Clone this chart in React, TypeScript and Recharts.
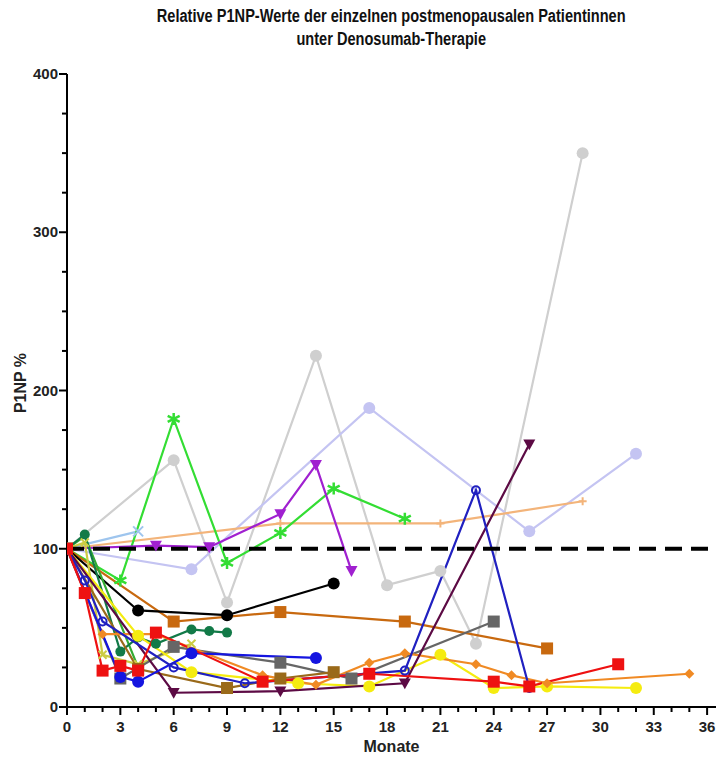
import { LineChart, Line, XAxis, YAxis, ReferenceLine } from 'recharts';

// each series: [month, P1NP % of baseline]
const lightGray = [[0, 100], [6, 156], [9, 66], [14, 222], [18, 77], [21, 86], [23, 40], [29, 350]];
const lavender = [[0, 100], [7, 87], [17, 189], [26, 111], [32, 160]];
const brightGreen = [[0, 100], [3, 80], [6, 182], [9, 91], [12, 110], [15, 138], [19, 119]];
const purple = [[0, 100], [5, 102], [8, 101], [12, 122], [14, 153], [16, 86]];
const peach = [[0, 100], [12, 116], [21, 116], [29, 130]];
const lightBlue = [[0, 100], [4, 111]];
const black = [[0, 100], [4, 61], [9, 58], [15, 78]];
const rust = [[0, 100], [6, 54], [12, 60], [19, 54], [27, 37]];
const darkGreen = [[0, 100], [1, 109], [3, 35], [4, 44], [5, 40], [7, 49], [8, 48], [9, 47]];
const red = [[0, 100], [1, 72], [2, 23], [3, 26], [4, 23], [5, 47], [11, 16], [17, 21], [24, 16], [26, 13], [31, 27]];
const orange = [[0, 100], [2, 46], [5, 46], [11, 20], [14, 14], [17, 28], [19, 34], [23, 27], [25, 20], [27, 15], [35, 21]];
const yellow = [[0, 100], [4, 45], [7, 22], [13, 15], [17, 13], [21, 33], [24, 12], [27, 13], [32, 12]];
const olive = [[0, 100], [1, 104], [2, 33], [4, 27], [7, 40]];
const blue = [[0, 100], [3, 19], [4, 16], [7, 34], [14, 31]];
const blueOpen = [[0, 100], [1, 80], [2, 54], [6, 25], [10, 15], [19, 23], [23, 137], [26, 12]];
const maroon = [[0, 100], [6, 9], [12, 10], [19, 15], [26, 166]];
const brown = [[0, 100], [4, 24], [9, 12], [12, 18], [15, 22]];
const darkGray = [[0, 100], [3, 18], [6, 38], [12, 28], [16, 18], [24, 54]];
const midGreen = [[0, 100], [1, 108], [4, 25]];

const xTicks = Array.from({ length: 37 }, (_, i) => i);
const yTicks = [0, 25, 50, 75, 100, 125, 150, 175, 200, 225, 250, 275, 300, 325, 350, 375, 400];

const FONT = '"Liberation Sans", Arial, sans-serif';

const series = [
  { name: 'lightGray', pts: lightGray, color: '#cfcfcf', shape: 'circle', size: 6 },
  { name: 'lavender', pts: lavender, color: '#c4c4f2', shape: 'circle', size: 6 },
  { name: 'peach', pts: peach, color: '#f3b47a', shape: 'plus', size: 4 },
  { name: 'lightBlue', pts: lightBlue, color: '#9ec5ee', shape: 'cross', size: 5 },
  { name: 'brightGreen', pts: brightGreen, color: '#33dd33', shape: 'star', size: 6 },
  { name: 'purple', pts: purple, color: '#a020d0', shape: 'triangle', size: 6 },
  { name: 'rust', pts: rust, color: '#c8690f', shape: 'square', size: 6 },
  { name: 'black', pts: black, color: '#000000', shape: 'circle', size: 6 },
  { name: 'midGreen', pts: midGreen, color: '#33aa33', shape: 'circle', size: 3 },
  { name: 'darkGreen', pts: darkGreen, color: '#127a48', shape: 'circle', size: 5 },
  { name: 'olive', pts: olive, color: '#cccc44', shape: 'cross', size: 4 },
  { name: 'darkGray', pts: darkGray, color: '#666666', shape: 'square', size: 6 },
  { name: 'brown', pts: brown, color: '#9a6a1a', shape: 'square', size: 6 },
  { name: 'yellow', pts: yellow, color: '#f5ec10', shape: 'circle', size: 6 },
  { name: 'orange', pts: orange, color: '#f08a24', shape: 'diamond', size: 5 },
  { name: 'maroon', pts: maroon, color: '#5c0a44', shape: 'triangle', size: 6 },
  { name: 'blue', pts: blue, color: '#1515e0', shape: 'circle', size: 6 },
  { name: 'blueOpen', pts: blueOpen, color: '#2020c0', shape: 'open', size: 4 },
  { name: 'red', pts: red, color: '#ee1111', shape: 'square', size: 6 },
];

const makeDot = (shape: string, color: string, s: number) => (props: any) => {
  const { cx, cy, index } = props;
  if (cx == null || cy == null) return null;
  const k = `d-${index}`;
  switch (shape) {
    case 'square':
      return <rect key={k} x={cx - s} y={cy - s} width={s * 2} height={s * 2} fill={color} />;
    case 'triangle':
      return <polygon key={k} points={`${cx - s},${cy - s * 0.8} ${cx + s},${cy - s * 0.8} ${cx},${cy + s}`} fill={color} />;
    case 'diamond':
      return <polygon key={k} points={`${cx},${cy - s} ${cx + s},${cy} ${cx},${cy + s} ${cx - s},${cy}`} fill={color} />;
    case 'open':
      return <circle key={k} cx={cx} cy={cy} r={s} fill="none" stroke={color} strokeWidth={2} />;
    case 'cross':
      return (
        <path key={k} d={`M${cx - s},${cy - s}L${cx + s},${cy + s}M${cx - s},${cy + s}L${cx + s},${cy - s}`} stroke={color} strokeWidth={2} />
      );
    case 'plus':
      return <path key={k} d={`M${cx - s},${cy}L${cx + s},${cy}M${cx},${cy - s}L${cx},${cy + s}`} stroke={color} strokeWidth={2} />;
    case 'star':
      return (
        <path
          key={k}
          d={`M${cx},${cy - s}L${cx},${cy + s}M${cx - s},${cy - s * 0.5}L${cx + s},${cy + s * 0.5}M${cx - s},${cy + s * 0.5}L${cx + s},${cy - s * 0.5}`}
          stroke={color}
          strokeWidth={2.5}
        />
      );
    default:
      return <circle key={k} cx={cx} cy={cy} r={s} fill={color} />;
  }
};

const XTick = (props: any) => {
  const { x, y, payload } = props;
  const v = payload.value;
  const major = v % 3 === 0;
  return (
    <g>
      <line x1={x} x2={x} y1={y} y2={y + (major ? 8 : 5)} stroke="#000" strokeWidth={2} />
      {major && (
        <text x={x} y={y + 25} textAnchor="middle" fontFamily={FONT} fontWeight="bold" fontSize={15} fill="#222">
          {v}
        </text>
      )}
    </g>
  );
};

const YTick = (props: any) => {
  const { x, y, payload } = props;
  const v = payload.value;
  const major = v % 100 === 0;
  return (
    <g>
      <line x1={x - (major ? 8 : 5)} x2={x} y1={y} y2={y} stroke="#000" strokeWidth={2} />
      {major && (
        <text x={x - 9} y={y + 5} textAnchor="end" fontFamily={FONT} fontWeight="bold" fontSize={15} fill="#222">
          {v}
        </text>
      )}
    </g>
  );
};

export default function App() {
  return (
    <div style={{ position: 'absolute', left: 0, top: 0, width: 724, height: 757, background: '#fff', fontFamily: FONT }}>
      <div
        style={{
          position: 'absolute',
          left: 67,
          width: 649,
          top: 5,
          textAlign: 'center',
          fontWeight: 'bold',
          fontSize: 18,
          lineHeight: '23px',
          color: '#111',
          transform: 'scaleX(0.81)',
          transformOrigin: '323px 0',
          whiteSpace: 'nowrap',
        }}
      >
        Relative P1NP-Werte der einzelnen postmenopausalen Patientinnen
        <br />
        unter Denosumab-Therapie
      </div>
      <LineChart width={724} height={757} margin={{ top: 74, right: 8, bottom: 10, left: 0 }}>
        <XAxis
          type="number"
          dataKey="x"
          domain={[0, 36.5]}
          ticks={xTicks}
          interval={0}
          tick={<XTick />}
          tickLine={false}
          tickSize={0}
          tickMargin={0}
          height={40}
          stroke="#000"
          strokeWidth={2}
          allowDataOverflow
        />
        <YAxis
          type="number"
          domain={[0, 400]}
          ticks={yTicks}
          interval={0}
          tick={<YTick />}
          tickLine={false}
          tickSize={0}
          tickMargin={0}
          width={67}
          stroke="#000"
          strokeWidth={2}
        />
        {series.map((s) => (
          <Line
            key={s.name}
            data={s.pts.map(([x, y]) => ({ x, y }))}
            dataKey="y"
            type="linear"
            stroke={s.color}
            strokeWidth={2.2}
            dot={makeDot(s.shape, s.color, s.size)}
            activeDot={false}
            isAnimationActive={false}
          />
        ))}
        <ReferenceLine y={100} stroke="#000" strokeWidth={4} strokeDasharray="17 9" />
      </LineChart>
      <div style={{ position: 'absolute', left: 67, width: 649, top: 738, textAlign: 'center', fontWeight: 'bold', fontSize: 16, color: '#222' }}>
        Monate
      </div>
      <div
        style={{
          position: 'absolute',
          left: 21,
          top: 383,
          transform: 'translate(-50%, -50%) rotate(-90deg)',
          fontWeight: 'bold',
          fontSize: 16,
          color: '#222',
          whiteSpace: 'nowrap',
        }}
      >
        P1NP %
      </div>
    </div>
  );
}
